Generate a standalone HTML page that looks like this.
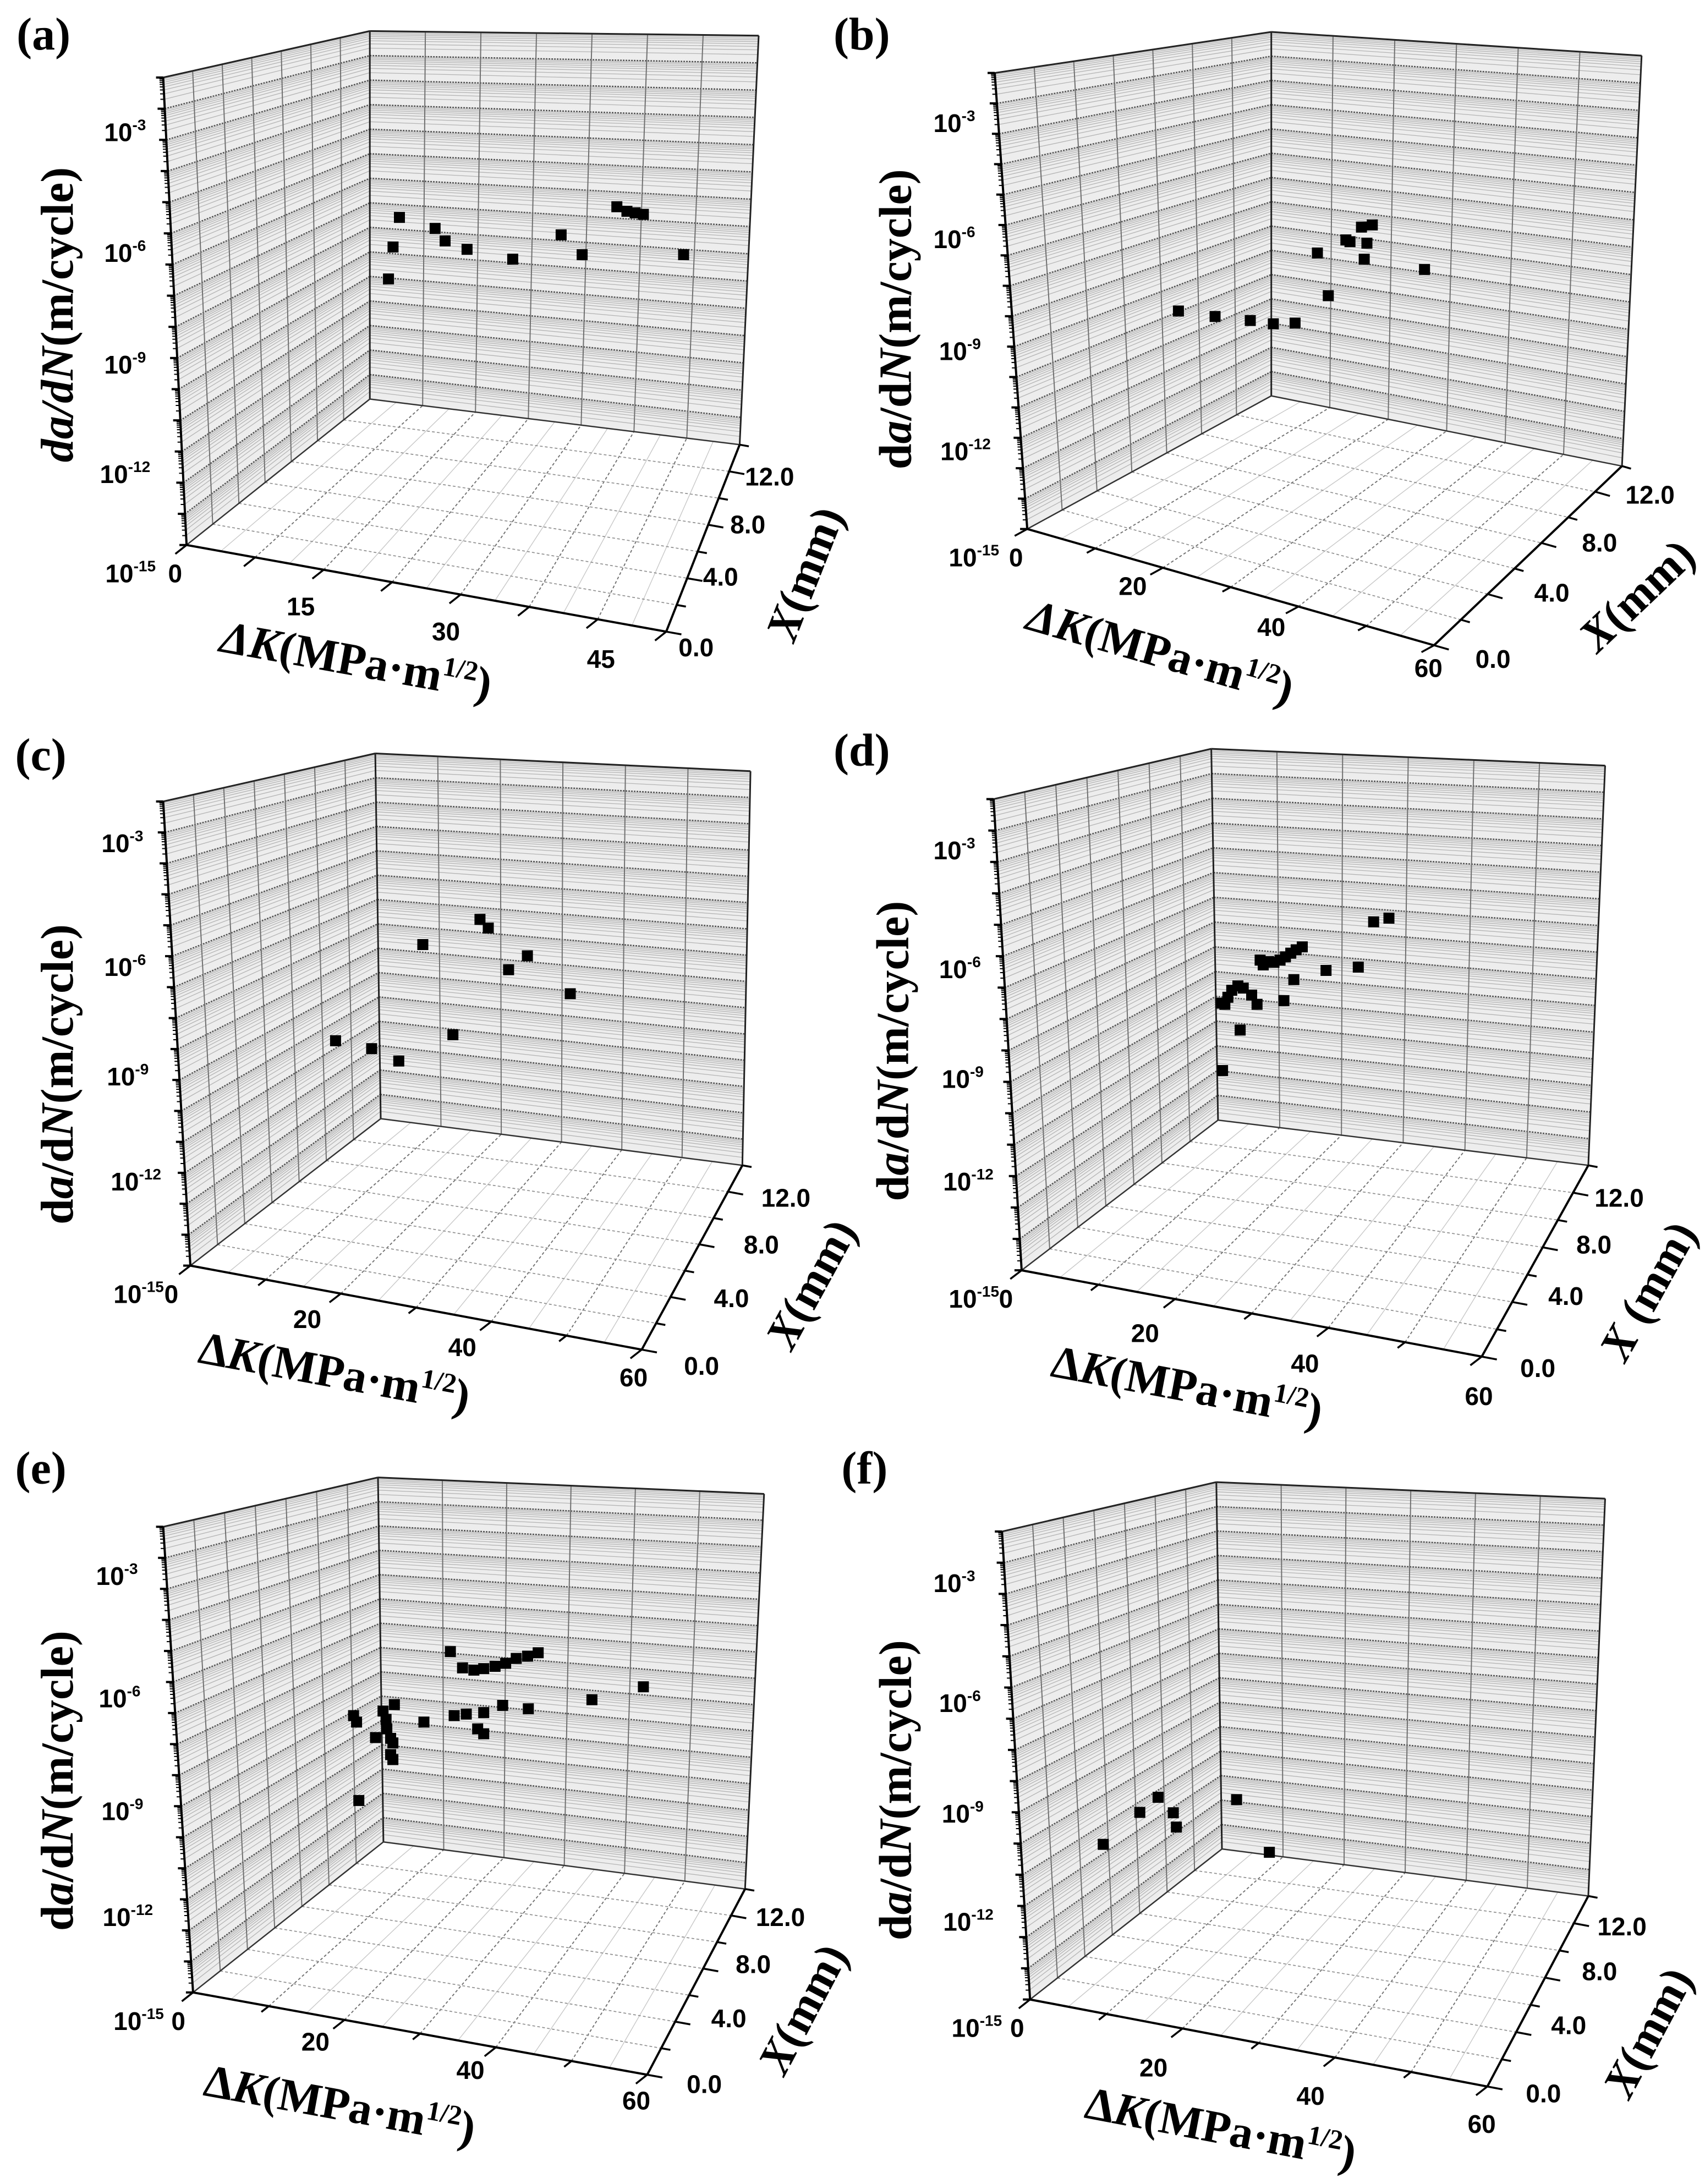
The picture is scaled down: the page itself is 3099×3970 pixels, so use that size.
<!DOCTYPE html>
<html><head><meta charset="utf-8"><title>da/dN vs ΔK and X</title>
<style>html,body{margin:0;padding:0;background:#fff}svg{display:block}</style></head>
<body>
<svg id="fig" xmlns="http://www.w3.org/2000/svg" width="3099" height="3970" viewBox="0 0 3099 3970"></svg>
<script>
// ---- data: apparent ΔK (MPa·m^1/2) and log10(da/dN) ----
const aDK=[23.3,22.6,22.1,27.2,28.3,30.7,35.7,41.0,43.3,47.1,48.2,49.1,50.0,54.4];
const aLG=[-5.24,-6.02,-6.86,-5.53,-5.86,-6.08,-6.34,-5.70,-6.22,-4.96,-5.08,-5.12,-5.16,-6.22];
const bDK=[22.3,27.7,32.9,36.3,39.5,42.8,44.4,47.6,49.3,50.9,50.1,49.7,58.6,47.0];
const bLG=[-8.15,-8.30,-8.41,-8.50,-8.48,-6.56,-7.73,-6.25,-5.85,-5.79,-6.29,-6.73,-7.01,-6.20];
const cDK=[19.3,24.1,27.7,30.9,34.9,38.5,39.6,42.3,44.8,50.5];
const cLG=[-8.25,-8.46,-8.79,-5.69,-8.09,-5.02,-5.25,-6.36,-5.99,-7.00];
const dDK=[26.2,28.5,26.5,26.9,27.4,28.2,28.9,30.0,30.7,34.2,35.5,31.5,32.2,32.9,33.7,34.4,35.1,35.8,36.6,31.1,39.7,43.9,45.9,47.9,26.0];
const dLG=[-8.98,-7.88,-7.18,-6.99,-6.80,-6.68,-6.74,-6.93,-7.18,-7.08,-6.51,-6.11,-6.02,-6.04,-5.98,-5.89,-5.79,-5.70,-5.62,-5.98,-6.26,-6.17,-4.94,-4.84,-7.15];
const eDK=[21.2,21.6,21.9,24.1,25.1,25.5,25.6,26.1,26.4,26.1,26.4,26.6,30.5,34.0,34.5,35.6,36.1,37.1,38.4,38.4,39.9,41.3,42.7,44.2,45.6,37.6,38.4,40.9,44.3,52.7,59.5];
const eLG=[-6.68,-6.85,-8.92,-7.26,-6.56,-6.78,-7.03,-7.28,-7.40,-7.71,-7.84,-6.39,-6.85,-4.99,-6.68,-5.42,-6.64,-5.48,-6.60,-5.44,-5.38,-5.30,-5.17,-5.11,-5.02,-7.03,-7.16,-6.41,-6.50,-6.26,-5.92];
const fDK=[9.6,14.4,16.8,18.8,19.2,27.1,31.4];
const fLG=[-9.94,-9.09,-8.69,-9.10,-9.48,-8.75,-10.15];
// tick labels
const zTickExp=['-3','-6','-9','-12','-15'];
const xTickLabels=['12.0','8.0','4.0','0.0'];
const dkTickA=['15','30','45'];
const dkTick60=['20','40','60'];

const NS='http://www.w3.org/2000/svg';
const svg=document.getElementById('fig');
function el(tag,attrs,parent){const e=document.createElementNS(NS,tag);for(const k in attrs)e.setAttribute(k,attrs[k]);(parent||svg).appendChild(e);return e;}

const panels=[
 {id:'a',ox:0,oy:0,sx:0.9885,sy:0.829,dk:aDK,lg:aLG,dkMax:52.5,dkStep:7.5,dkLab:dkTickA,
  TL:[300,170],BCt:[680,68],BRt:[1395,78],BRb:[1360,975],BCb:[680,875],FL:[343,1195],FR:[1225,1385],
  zl:[[230,290],[230,555],[230,800],[230,1040],[240,1170]],zero:[322,1165],
  dl:[[553,1330],[820,1385],[1105,1445]],xl:[[1415,1045],[1375,1150],[1325,1265],[1280,1420]],
  tY:[105,690],tK:[650,1450],tX:[1480,1270],lab:[80,75],italD:true,italDelta:true},
 {id:'b',ox:1500,oy:0,sx:1.0198,sy:0.829,dk:bDK,lg:bLG,dkMax:60,dkStep:10,dkLab:dkTick60,
  TL:[302,160],BCt:[795,70],BRt:[1455,122],BRb:[1420,1022],BCb:[795,868],FL:[360,1160],FR:[1085,1415],
  zl:[[230,270],[230,525],[240,770],[250,990],[265,1190]],zero:[340,1200],
  dl:[[548,1285],[795,1375],[1075,1465]],xl:[[1470,1085],[1380,1190],[1295,1300],[1190,1445]],
  tY:[125,700],tK:[590,1430],tX:[1440,1330],lab:[65,75],italD:false,italDelta:true},
 {id:'c',ox:0,oy:1300,sx:0.9885,sy:0.848,dk:cDK,lg:cLG,dkMax:60,dkStep:10,dkLab:dkTick60,
  TL:[300,185],BCt:[690,82],BRt:[1380,120],BRb:[1365,965],BCb:[700,865],FL:[350,1180],FR:[1180,1360],
  zl:[[225,275],[230,540],[235,775],[250,1000],[255,1225]],zero:[315,1225],
  dl:[[565,1295],[850,1355],[1165,1420]],xl:[[1445,1035],[1400,1135],[1345,1250],[1290,1395]],
  tY:[105,770],tK:[610,1410],tX:[1490,1235],lab:[75,85],italD:false,italDelta:false},
 {id:'d',ox:1500,oy:1300,sx:1.0198,sy:0.848,dk:dDK,lg:dLG,dkMax:60,dkStep:10,dkLab:dkTick60,
  TL:[300,180],BCt:[688,72],BRt:[1390,108],BRb:[1360,965],BCb:[700,868],FL:[350,1190],FR:[1170,1375],
  zl:[[230,290],[240,545],[245,780],[255,1000],[265,1230]],zero:[322,1235],
  dl:[[570,1325],[855,1390],[1165,1460]],xl:[[1415,1035],[1370,1135],[1320,1245],[1270,1400]],
  tY:[120,720],tK:[640,1440],tX:[1465,1250],lab:[65,75],italD:false,italDelta:false,xSpace:true},
 {id:'e',ox:0,oy:2630,sx:0.9885,sy:0.855,dk:eDK,lg:eLG,dkMax:60,dkStep:10,dkLab:dkTick60,
  TL:[300,170],BCt:[695,65],BRt:[1405,100],BRb:[1370,940],BCb:[705,840],FL:[355,1160],FR:[1190,1335],
  zl:[[215,275],[220,535],[225,775],[235,1000],[255,1215]],zero:[328,1205],
  dl:[[580,1265],[865,1325],[1170,1390]],xl:[[1435,1000],[1385,1100],[1340,1215],[1295,1355]],
  tY:[105,710],tK:[620,1400],tX:[1475,1210],lab:[75,45],italD:false,italDelta:false},
 {id:'f',ox:1500,oy:2630,sx:1.0198,sy:0.855,dk:fDK,lg:fLG,dkMax:60,dkStep:10,dkLab:dkTick60,
  TL:[315,180],BCt:[697,75],BRt:[1390,110],BRb:[1360,955],BCb:[707,855],FL:[365,1175],FR:[1180,1360],
  zl:[[230,290],[240,545],[245,780],[255,1010],[270,1230]],zero:[342,1225],
  dl:[[585,1320],[865,1380],[1170,1440]],xl:[[1420,1020],[1380,1115],[1325,1230],[1280,1375]],
  tY:[125,730],tK:[700,1450],tX:[1465,1260],lab:[70,45],italD:false,italDelta:false}
];

function bil(q,u,v){const[p00,p10,p11,p01]=q;return[
 (1-u)*(1-v)*p00[0]+u*(1-v)*p10[0]+u*v*p11[0]+(1-u)*v*p01[0],
 (1-u)*(1-v)*p00[1]+u*(1-v)*p10[1]+u*v*p11[1]+(1-u)*v*p01[1]];}
function ln(g,a,b,st,w,dash,name){const l=el('line',{x1:a[0].toFixed(1),y1:a[1].toFixed(1),x2:b[0].toFixed(1),y2:b[1].toFixed(1),stroke:st,'stroke-width':w},g);if(dash)l.setAttribute('stroke-dasharray',dash);return l;}
const SANS='"Liberation Sans", Arial, sans-serif', SERIF='"Liberation Serif", "Times New Roman", serif';
const NZ=15, FS_TICK=46, FS_TITLE=84;

panels.forEach(P=>{
 const T=p=>[P.ox+P.sx*p[0],P.oy+P.sy*p[1]];
 ['TL','BCt','BRt','BRb','BCb','FL','FR','zero','tY','tK','tX','lab'].forEach(k=>{P[k]=T(P[k]);});
 P.zl=P.zl.map(T);P.dl=P.dl.map(T);P.xl=P.xl.map(T);
 // bottom z label and zero label sit below the front-left corner
 P.zl[4]=[P.zl[4][0],P.FL[1]+52];
 P.zero=[P.zero[0],P.FL[1]+52];
 const g=el('g',{});
 
 
 const back=[P.BCb,P.BRb,P.BRt,P.BCt], left=[P.FL,P.BCb,P.BCt,P.TL], floor=[P.FL,P.FR,P.BRb,P.BCb];
 const nDK=Math.round(P.dkMax/P.dkStep), nX=7;
 [[back,'back-wall'],[left,'left-wall'],[floor,'floor']].forEach(([q,nm])=>{
  const pg=el('polygon',{points:q.map(p=>p.join(',')).join(' '),fill:nm==='floor'?'#ffffff':'#ededed',stroke:'none'},g);
  });
 [[back,'back'],[left,'left']].forEach(([q,nm])=>{
  for(let d=0;d<NZ;d++){
   for(let k=2;k<=9;k++){const v=(d+Math.log10(k))/NZ;ln(g,bil(q,0,v),bil(q,1,v),'#b4b4b4',1.3,null,nm+'-minor-grid');}
  }
  for(let d=1;d<NZ;d++){const v=d/NZ;ln(g,bil(q,0,v),bil(q,1,v),'#505050',2.4,'3 2',nm+'-major-grid');}
 });
 for(let i=1;i<nDK;i++){const u=i/nDK;ln(g,bil(back,u,0),bil(back,u,1),'#707070',2,null,'back-vertical-grid');}
 for(let i=1;i<nX;i++){const u=i/nX;ln(g,bil(left,u,0),bil(left,u,1),'#707070',2,null,'left-vertical-grid');}
 for(let i=1;i<nDK*2;i++){const u=i/(nDK*2);ln(g,bil(floor,u,0),bil(floor,u,1),i%2?'#c8c8c8':'#707070',i%2?1.4:1.9,i%2?null:'5 4','floor-grid');}
 for(let i=1;i<nX;i++){const v=i/nX;ln(g,bil(floor,0,v),bil(floor,1,v),'#909090',1.7,'5 4','floor-grid');}
 ln(g,P.TL,P.BCt,'#222',3,null,'box-edge');ln(g,P.BCt,P.BRt,'#222',3,null,'box-edge');
 ln(g,P.BRt,P.BRb,'#222',3,null,'box-edge');ln(g,P.BCt,P.BCb,'#222',3,null,'box-edge');
 ln(g,P.BCb,P.BRb,'#333',2.5,null,'box-edge');ln(g,P.FL,P.BCb,'#333',2.5,null,'box-edge');
 ln(g,P.TL,P.FL,'#000',4,null,'z-axis-line');ln(g,P.FL,P.FR,'#000',4,null,'dk-axis-line');ln(g,P.FR,P.BRb,'#000',4,null,'x-axis-line');
 for(let d=0;d<=NZ;d++){const p=bil(left,0,d/NZ);ln(g,p,[p[0]-13,p[1]],'#000',4,null,'z-major-tick');
  if(d<NZ)for(let k=2;k<=9;k++){const q=bil(left,0,(d+Math.log10(k))/NZ);ln(g,q,[q[0]-7,q[1]],'#000',2,null,'z-minor-tick');}}
 const dv=[P.FL[0]-P.BCb[0],P.FL[1]-P.BCb[1]],dn=Math.hypot(dv[0],dv[1]);
 for(let i=0;i<=nDK;i++){const p=bil(floor,i/nDK,0);const L=(i%2===0||P.dkStep===7.5)?26:17;ln(g,p,[p[0]+dv[0]/dn*L,p[1]+dv[1]/dn*L],'#000',3.5,null,'dk-tick');}
 const xv=[P.FR[0]-P.FL[0],P.FR[1]-P.FL[1]],xn=Math.hypot(xv[0],xv[1]);
 for(let i=0;i<=nX;i++){const p=bil(floor,1,i/nX);const L=i%2===0?28:17;ln(g,p,[p[0]+xv[0]/xn*L,p[1]+xv[1]/xn*L],'#000',3.5,null,'x-tick');}
 P.zl.forEach((pt,i)=>{const t=el('text',{x:pt[0],y:pt[1]+16,'text-anchor':'middle','font-family':SANS,'font-weight':'bold','font-size':FS_TICK},g);
  
  t.appendChild(document.createTextNode('10'));const s=el('tspan',{dy:-20,'font-size':28},t);s.textContent=zTickExp[i];});
 const z0=el('text',{x:P.zero[0],y:P.zero[1]+16,'text-anchor':'middle','font-family':SANS,'font-weight':'bold','font-size':FS_TICK},g);
 z0.textContent='0';
 P.dl.forEach((pt,i)=>{const t=el('text',{x:pt[0],y:pt[1]+16,'text-anchor':'middle','font-family':SANS,'font-weight':'bold','font-size':FS_TICK},g);
  t.textContent=P.dkLab[i];});
 P.xl.forEach((pt,i)=>{const t=el('text',{x:pt[0],y:pt[1]+16,'text-anchor':'middle','font-family':SANS,'font-weight':'bold','font-size':FS_TICK},g);
  t.textContent=xTickLabels[i];});
 const ty=el('text',{x:0,y:0,'text-anchor':'middle','font-family':SERIF,'font-weight':'bold','font-size':FS_TITLE,transform:`translate(${P.tY[0]+28},${P.tY[1]}) rotate(-90)`},g);
 
 const t1=el('tspan',{'font-style':P.italD?'italic':'normal'},ty);t1.textContent='d';
 const t2=el('tspan',{'font-style':'italic'},ty);t2.textContent='a';
 const t3=el('tspan',{'font-style':P.italD?'italic':'normal'},ty);t3.textContent='/d';
 const t4=el('tspan',{'font-style':'italic'},ty);t4.textContent='N';
 const t5=el('tspan',{},ty);t5.textContent='(m/cycle)';
 const ang=Math.atan2(P.FR[1]-P.FL[1],P.FR[0]-P.FL[0])*180/Math.PI;
 const tk=el('text',{x:0,y:0,'text-anchor':'middle','font-family':SERIF,'font-weight':'bold','font-size':FS_TITLE,transform:`translate(${P.tK[0]},${P.tK[1]+26}) rotate(${ang.toFixed(1)})`},g);
 
 const k1=el('tspan',{'font-style':P.italDelta?'italic':'normal'},tk);k1.textContent='Δ';
 const k2=el('tspan',{'font-style':'italic'},tk);k2.textContent='K';
 const k3=el('tspan',{},tk);k3.textContent='(MPa·m';
 const k4=el('tspan',{dy:-30,'font-size':50},tk);k4.textContent='1/2';
 const k5=el('tspan',{dy:30},tk);k5.textContent=')';
 const ang2=Math.atan2(P.BRb[1]-P.FR[1],P.BRb[0]-P.FR[0])*180/Math.PI;
 const tx=el('text',{x:0,y:0,'text-anchor':'middle','font-family':SERIF,'font-weight':'bold','font-size':FS_TITLE,transform:`translate(${P.tX[0]+26},${P.tX[1]}) rotate(${ang2.toFixed(1)})`},g);
 
 const x1=el('tspan',{'font-style':'italic'},tx);x1.textContent='X';
 const x2=el('tspan',{},tx);x2.textContent=P.xSpace?' (mm)':'(mm)';
 const lb=el('text',{x:P.lab[0],y:P.lab[1]+28,'text-anchor':'middle','font-family':SERIF,'font-weight':'bold','font-size':84},g);
 lb.textContent='('+P.id+')';
 const y3=P.zl[0][1], y12=P.zl[3][1];
 const xs=d=>P.FL[0]+d/P.dkMax*(P.FR[0]-P.FL[0]);
 const ys=l=>y3+(-3-l)*(y12-y3)/9;
 P.dk.forEach((d,i)=>{const r=el('rect',{x:(xs(d)-10).toFixed(1),y:(ys(P.lg[i])-10).toFixed(1),width:20,height:20,fill:'#000'},g);
  });
});
</script>
</body></html>
